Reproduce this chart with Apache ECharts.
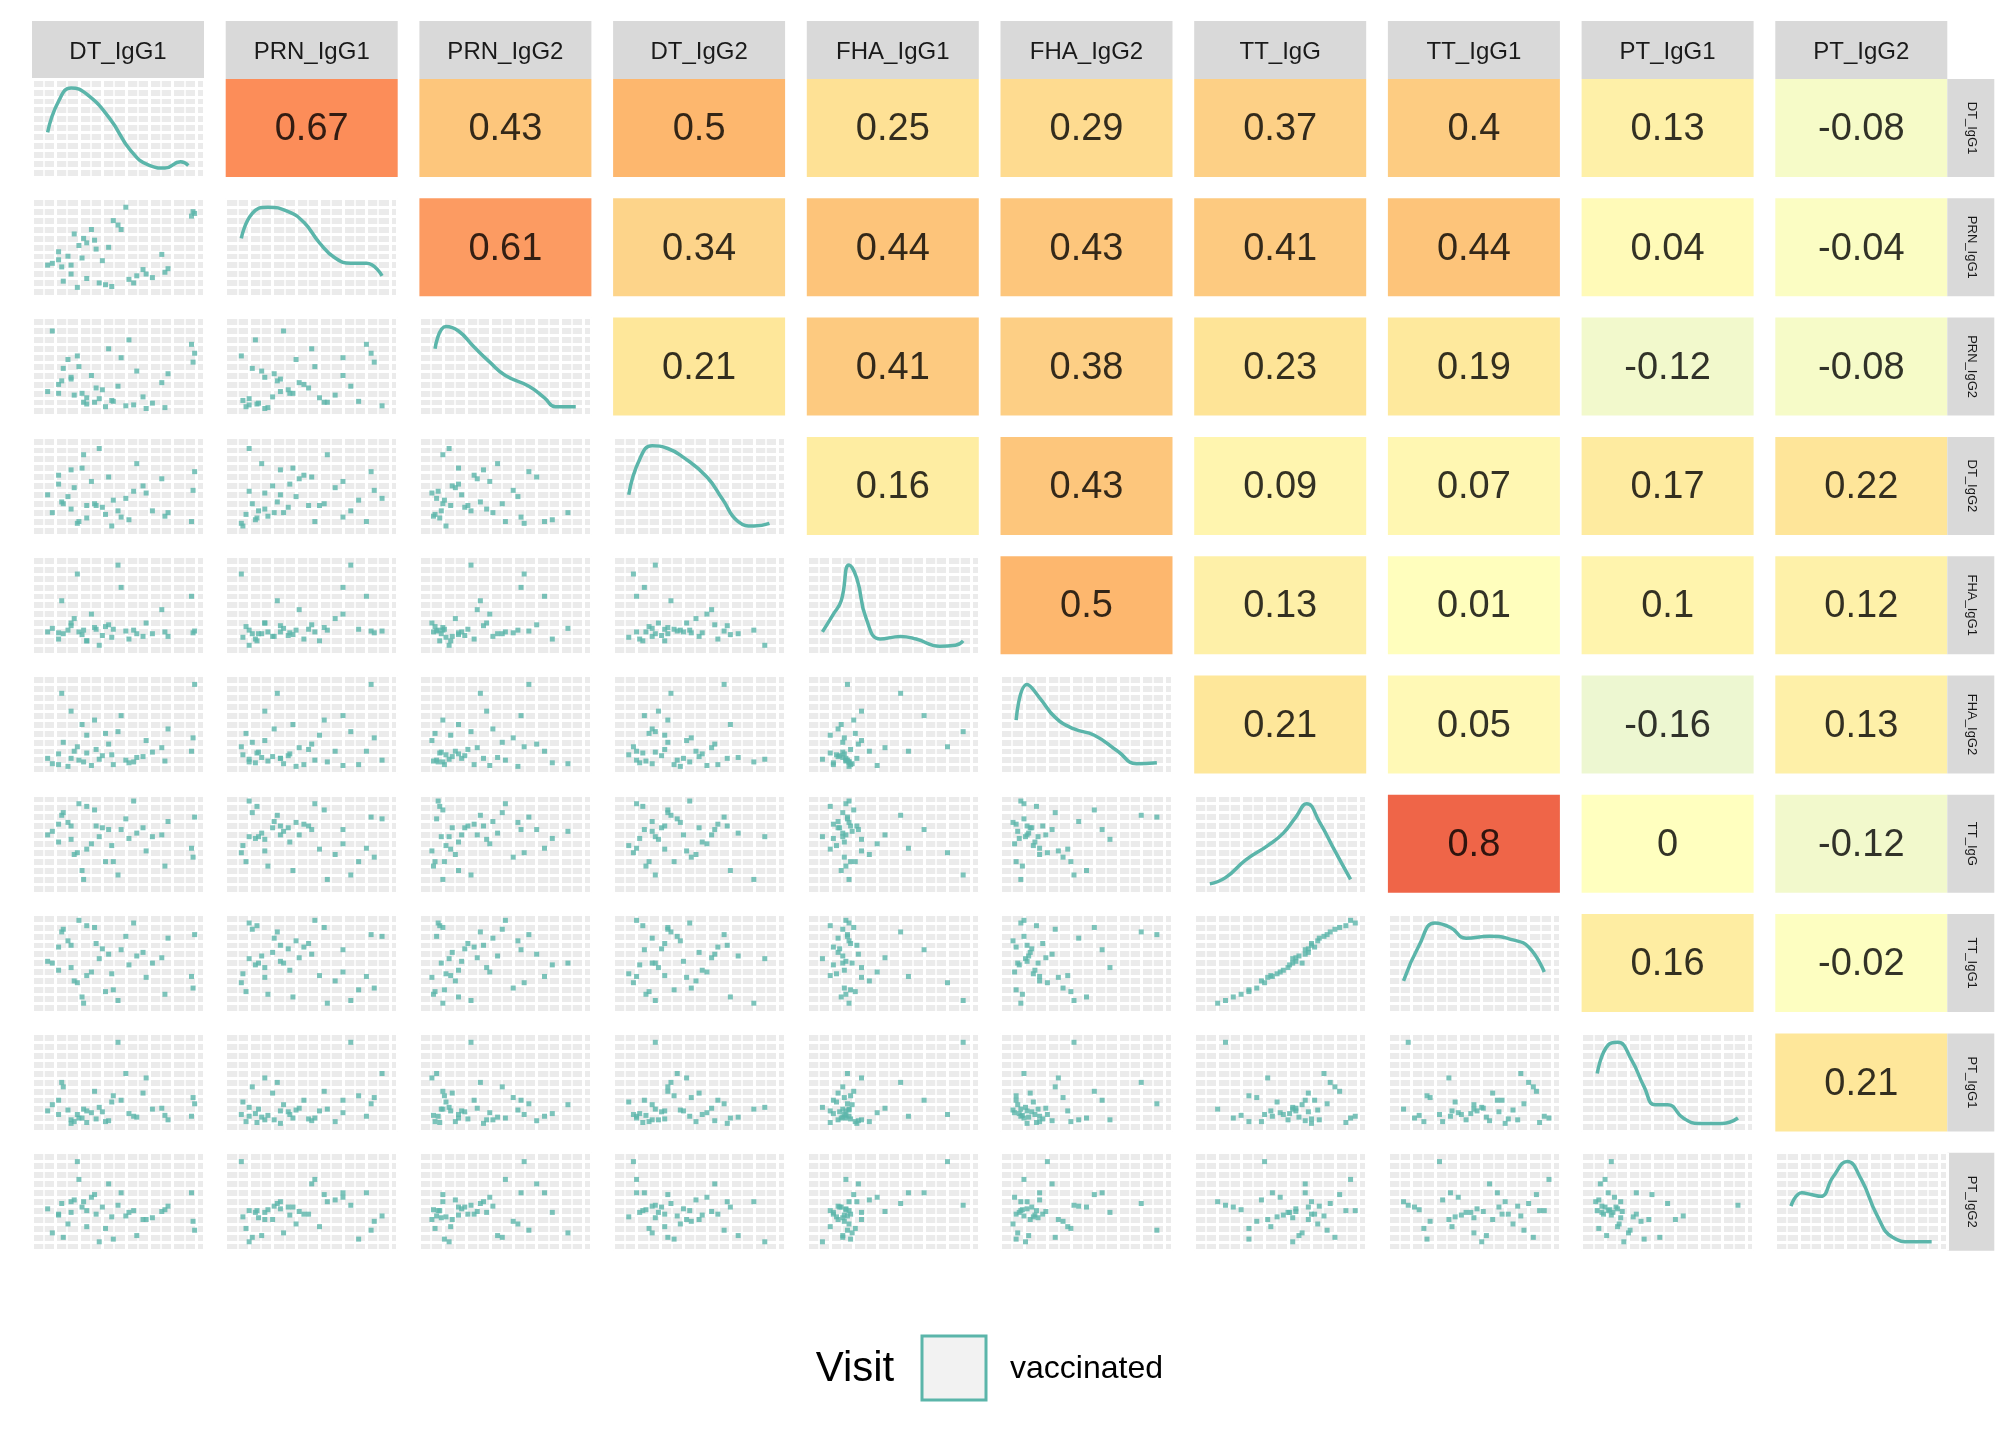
<!DOCTYPE html>
<html>
<head>
<meta charset="utf-8">
<script src="https://cdn.jsdelivr.net/npm/echarts@6/dist/echarts.min.js"></script>
<style>html,body{margin:0;background:#fff}#main{width:2016px;height:1440px}</style>
</head>
<body>
<div id="main"></div>
<script>
var names = ['DT_IgG1','PRN_IgG1','PRN_IgG2','DT_IgG2','FHA_IgG1','FHA_IgG2','TT_IgG','TT_IgG1','PT_IgG1','PT_IgG2'];

// correlation values, upper triangle, row by row
var corrRows = [
    [0.67,0.43,0.5,0.25,0.29,0.37,0.4,0.13,-0.08],
    [0.61,0.34,0.44,0.43,0.41,0.44,0.04,-0.04],
    [0.21,0.41,0.38,0.23,0.19,-0.12,-0.08],
    [0.16,0.43,0.09,0.07,0.17,0.22],
    [0.5,0.13,0.01,0.1,0.12],
    [0.21,0.05,-0.16,0.13],
    [0.8,0,-0.12],
    [0.16,-0.02],
    [0.21]
];

// per-subject values (scaled 0..1) used for the lower scatter panels
var DT_IgG1  = [0.05,0.42,0.12,0.97,0.15,0.28,0.2,0.66,0.24,0.55,0.27,0.08,0.3,0.33,0.98,0.36,0.38,0.14,0.8,0.44,0.46,0.18,0.5,0.62,0.35,0.57,0.22,0.99,0.4,0.68,0.25,0.78,0.47,0.82,0.12,0.52,0.6,0.3,0.2,0.72];
var PRN_IgG1 = [0.3,0.08,0.45,0.85,0.12,0.6,0.2,0.25,0.05,0.95,0.38,0.32,0.15,0.7,0.9,0.48,0.1,0.28,0.22,0.5,0.06,0.4,0.75,0.18,0.58,0.14,0.65,0.88,0.35,0.2,0.52,0.42,0.8,0.26,0.36,0.7,0.1,0.55,0.3,0.16];
var PRN_IgG2 = [0.22,0.05,0.3,0.75,0.48,0.1,0.38,0.16,0.62,0.06,0.2,0.9,0.08,0.4,0.55,0.26,0.14,0.34,0.04,0.7,0.12,0.58,0.28,0.45,0.1,0.8,0.18,0.65,0.24,0.03,0.5,0.32,0.11,0.42,0.2,0.6,0.07,0.15,0.36,0.09];
var DT_IgG2  = [0.4,0.18,0.62,0.1,0.3,0.85,0.24,0.5,0.08,0.36,0.7,0.2,0.14,0.55,0.45,0.28,0.92,0.32,0.16,0.6,0.05,0.38,0.22,0.75,0.3,0.12,0.48,0.66,0.26,0.42,0.1,0.58,0.34,0.2,0.52,0.15,0.44,0.28,0.68,0.22];
var FHA_IgG1 = [0.2,0.26,0.12,0.6,0.18,0.22,0.3,0.15,0.85,0.21,0.17,0.24,0.1,0.4,0.19,0.23,0.05,0.55,0.2,0.28,0.14,0.22,0.95,0.18,0.25,0.12,0.35,0.21,0.16,0.3,0.2,0.45,0.23,0.15,0.19,0.7,0.22,0.1,0.27,0.18];
var FHA_IgG2 = [0.12,0.4,0.05,0.2,0.3,0.08,0.65,0.14,0.25,0.1,0.5,0.06,0.18,0.04,0.35,0.22,0.11,0.85,0.09,0.28,0.16,0.03,0.42,0.13,0.55,0.07,0.2,0.95,0.15,0.32,0.1,0.24,0.05,0.45,0.17,0.6,0.08,0.38,0.12,0.19];
var TT_IgG   = [0.6,0.3,0.72,0.45,0.85,0.1,0.55,0.68,0.4,0.78,0.2,0.64,0.92,0.5,0.35,0.7,0.58,0.82,0.25,0.66,0.48,0.74,0.15,0.62,0.88,0.56,0.38,0.8,0.68,0.42,0.95,0.6,0.3,0.75,0.52,0.66,0.98,0.44,0.7,0.58];
var TT_IgG1  = [0.52,0.18,0.68,0.35,0.88,0.05,0.45,0.62,0.28,0.8,0.12,0.5,0.92,0.4,0.22,0.72,0.55,0.85,0.15,0.6,0.38,0.75,0.08,0.58,0.9,0.48,0.3,0.82,0.66,0.34,0.98,0.56,0.2,0.78,0.42,0.65,0.95,0.36,0.7,0.5];
var PT_IgG1  = [0.18,0.06,0.3,0.12,0.45,0.2,0.08,0.38,0.14,0.6,0.1,0.25,0.05,0.16,0.33,0.09,0.22,0.5,0.13,0.07,0.28,0.19,0.95,0.11,0.4,0.15,0.06,0.26,0.17,0.55,0.1,0.21,0.35,0.08,0.14,0.3,0.12,0.18,0.04,0.2];
var PT_IgG2  = [0.42,0.2,0.36,0.6,0.1,0.5,0.38,0.3,0.95,0.34,0.44,0.15,0.4,0.55,0.28,0.36,0.05,0.48,0.41,0.7,0.33,0.25,0.46,0.12,0.58,0.38,0.52,0.18,0.44,0.3,0.75,0.39,0.08,0.45,0.35,0.6,0.4,0.22,0.5,0.32];
var vars = [DT_IgG1,PRN_IgG1,PRN_IgG2,DT_IgG2,FHA_IgG1,FHA_IgG2,TT_IgG,TT_IgG1,PT_IgG1,PT_IgG2];

// density curves: [x, y] on 0..1
var densities = [
    [[0.05,0.45],[0.12,0.8],[0.2,0.95],[0.3,0.88],[0.45,0.6],[0.58,0.25],[0.7,0.08],[0.8,0.05],[0.9,0.12],[0.95,0.08]],
    [[0.05,0.6],[0.12,0.88],[0.22,0.95],[0.35,0.9],[0.45,0.78],[0.55,0.55],[0.65,0.38],[0.75,0.32],[0.85,0.32],[0.95,0.18]],
    [[0.05,0.7],[0.12,0.95],[0.2,0.9],[0.3,0.72],[0.4,0.55],[0.5,0.4],[0.65,0.28],[0.75,0.15],[0.82,0.05],[0.95,0.05]],
    [[0.05,0.4],[0.12,0.8],[0.2,0.95],[0.3,0.92],[0.4,0.82],[0.55,0.6],[0.65,0.35],[0.75,0.1],[0.85,0.05],[0.95,0.08]],
    [[0.05,0.2],[0.12,0.4],[0.17,0.55],[0.22,0.95],[0.27,0.8],[0.33,0.35],[0.42,0.12],[0.55,0.15],[0.65,0.12],[0.8,0.04],[0.9,0.05],[0.95,0.1]],
    [[0.05,0.55],[0.12,0.95],[0.2,0.8],[0.3,0.58],[0.42,0.45],[0.55,0.38],[0.7,0.2],[0.82,0.06],[0.95,0.07]],
    [[0.05,0.05],[0.15,0.12],[0.28,0.32],[0.42,0.48],[0.52,0.62],[0.6,0.8],[0.67,0.95],[0.75,0.75],[0.85,0.42],[0.95,0.1]],
    [[0.05,0.3],[0.15,0.7],[0.25,0.95],[0.35,0.9],[0.45,0.78],[0.6,0.8],[0.75,0.76],[0.85,0.68],[0.95,0.4]],
    [[0.05,0.6],[0.12,0.92],[0.18,0.95],[0.27,0.75],[0.35,0.45],[0.42,0.25],[0.5,0.25],[0.6,0.1],[0.7,0.04],[0.85,0.04],[0.95,0.1]],
    [[0.05,0.45],[0.12,0.6],[0.18,0.58],[0.24,0.56],[0.32,0.78],[0.41,0.95],[0.5,0.75],[0.6,0.35],[0.7,0.1],[0.82,0.05],[0.95,0.05]]
];

var teal = '#5BB5AA';
var stops = [[-0.2,[233,245,213]],[0,[255,255,191]],[0.2,[254,232,155]],[0.4,[253,204,130]],[0.5,[253,183,110]],[0.61,[252,155,98]],[0.67,[252,141,89]],[0.8,[239,101,72]],[1,[215,48,39]]];
function corrColor(v){
    for (var k=0;k<stops.length-1;k++){
        if (v<=stops[k+1][0]){
            var t=(v-stops[k][0])/(stops[k+1][0]-stops[k][0]); t=Math.max(0,Math.min(1,t));
            var a=stops[k][1], b=stops[k+1][1];
            return 'rgb('+[0,1,2].map(function(c){return Math.round(a[c]+(b[c]-a[c])*t);}).join(',')+')';
        }
    }
    return 'rgb(215,48,39)';
}

var L0=32, T0=79, PX=193.7, PY=119.3, W=172, H=98;
var grids=[], xAxes=[], yAxes=[], series=[], graphics=[];
var font='Liberation Sans';
function axis(show, iv, minorW){
    return {type:'value', min:-0.05, max:1.05, interval:iv, show:show,
        axisLine:{show:false}, axisTick:{show:false}, axisLabel:{show:false},
        splitLine:{show:show, lineStyle:{color:'#fff', width:3}},
        minorTick:{show:false, splitNumber:2}, minorSplitLine:{show:show && minorW>0, lineStyle:{color:'#fff', width:minorW}}};
}
var g=0;
for (var i=0;i<10;i++){
    for (var j=0;j<10;j++){
        var upper = j>i;
        grids.push({left:L0+j*PX, top:T0+i*PY, width:W, height:H, show:true,
            backgroundColor: upper ? corrColor(corrRows[i][j-i-1]) : '#EBEBEB', borderWidth:0});
        var xa=axis(!upper, 0.15, 1.5), ya=axis(!upper, 0.1, 0);
        xa.gridIndex=g; ya.gridIndex=g;
        xAxes.push(xa); yAxes.push(ya);
        if (upper){
            var v=corrRows[i][j-i-1];
            series.push({type:'scatter', xAxisIndex:g, yAxisIndex:g, symbolSize:0, silent:true,
                data:[[0.5,0.48]],
                label:{show:true, position:'inside', formatter:String(v), fontSize:38, color:'#000', fontFamily:font}});
        } else if (i===j){
            series.push({type:'line', xAxisIndex:g, yAxisIndex:g, smooth:0.5, showSymbol:false,
                lineStyle:{color:teal, width:3.5}, data:densities[i]});
        } else {
            var pts=vars[j].map(function(x,k){return [x, vars[i][k]];});
            series.push({type:'scatter', xAxisIndex:g, yAxisIndex:g, symbol:'rect', symbolSize:5,
                itemStyle:{color:teal}, data:pts});
        }
        g++;
    }
    // right strip
    graphics.push({type:'rect', shape:{x:L0+9*PX+W, y:T0+i*PY, width:47, height:H}, style:{fill:'#D9D9D9'}});
    graphics.push({type:'text', x:L0+9*PX+W+24, y:T0+i*PY+H/2, rotation:-Math.PI/2,
        style:{text:names[i], fontSize:13, fontFamily:font, fill:'#1a1a1a', align:'center', verticalAlign:'middle'}});
}
for (var j=0;j<10;j++){
    graphics.push({type:'rect', shape:{x:L0+j*PX, y:21, width:W, height:58}, style:{fill:'#D9D9D9'}});
    graphics.push({type:'text', x:L0+j*PX+W/2, y:52, style:{text:names[j], fontSize:24, fontFamily:font, fill:'#1a1a1a', align:'center', verticalAlign:'middle'}});
}
// legend
graphics.push({type:'text', x:855, y:1369, style:{text:'Visit', fontSize:42, fontFamily:font, fill:'#000', align:'center', verticalAlign:'middle'}});
graphics.push({type:'rect', shape:{x:922, y:1336, width:64, height:64}, style:{fill:'#F2F2F2', stroke:teal, lineWidth:3}});
graphics.push({type:'text', x:1010, y:1369, style:{text:'vaccinated', fontSize:32, fontFamily:font, fill:'#000', align:'left', verticalAlign:'middle'}});

var chart=echarts.init(document.getElementById('main'));
chart.setOption({animation:false, grid:grids, xAxis:xAxes, yAxis:yAxes, series:series, graphic:graphics});
</script>
</body>
</html>
